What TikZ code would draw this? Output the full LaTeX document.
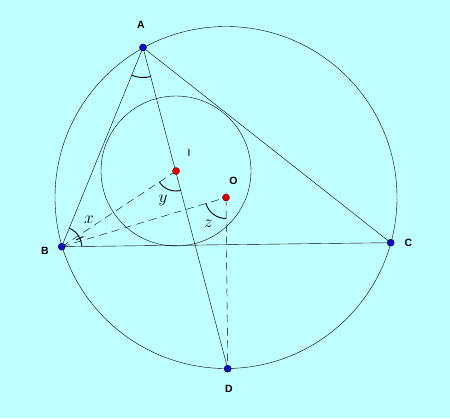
\documentclass[tikz,border=0pt]{standalone}
\usepackage{fontspec}
\setsansfont{Liberation Sans}
\usetikzlibrary{angles, backgrounds, positioning}

\definecolor{bgcyan}{RGB}{191,255,255}
\definecolor{ptblue}{RGB}{15,15,190}
\definecolor{ptred}{RGB}{225,0,0}

\begin{document}
\begin{tikzpicture}[
        x=1pt, y=1pt,
        line width=1pt,
        bpt/.style={circle, draw=black!60!blue, fill=ptblue, inner sep=0pt, minimum size=7pt, line width=0.5pt},
        rpt/.style={circle, draw=black!50!red, fill=ptred, inner sep=0pt, minimum size=7pt, line width=0.5pt},
        lbl/.style={font=\sffamily\bfseries\fontsize{10.5}{12}\selectfont, inner sep=0pt},
        mlbl/.style={font=\fontsize{16}{18}\selectfont, inner sep=0pt},
        dline/.style={dash pattern=on 8pt off 5pt},
        amark/.style={draw, line width=0.9pt},
      ]

        % points
        \node[bpt] (A) at (143,-47.5)  {};
        \node[bpt] (B) at (61.7,-246.7) {};
        \node[bpt] (C) at (390.7,-242.7) {};
        \node[bpt] (D) at (227.7,-368.7) {};
        \node[rpt] (I) at (176,-171)    {};
        \node[rpt] (O) at (226,-197.5)  {};

        % labels
        \node[lbl] (lA) at (141,-24.5) {A};
        \node[lbl] (lB) at (45,-250.5) {B};
        \node[lbl] (lC) at (408.5,-243) {C};
        \node[lbl] (lD) at (229,-389)  {D};
        \node[lbl] (lO) at (233.5,-181) {O};
        \node[font=\sffamily\fontsize{10.5}{12}\selectfont, inner sep=0pt] (lI) at (189,-153) {I};

        \node[mlbl] (lx) at (89,-220)  {$x$};
        \node[mlbl] (ly) at (163,-200) {$y$};
        \node[mlbl] (lz) at (208.5,-224) {$z$};

        \begin{scope}[on background layer]
          \fill[bgcyan] (0,0) rectangle (450,-418);
          \useasboundingbox (0,0) rectangle (450,-418);

          % circles
          \draw (O.center) circle (171);
          \draw (I.center) circle (75);

          % triangle and bisector
          \draw (A.center) -- (B.center) -- (C.center) -- cycle;
          \draw (A.center) -- (D.center);

          % dashed lines
          \draw[dline] (B.center) -- (I.center);
          \draw[dline] (B.center) -- (O.center);
          \draw[dline] (O.center) -- (D.center);

          % angle marks
          \path pic[amark, angle radius=30] {angle = B--A--D};
          \path pic[amark, angle radius=20] {angle = C--B--A};
          \path pic[amark, angle radius=20] {angle = B--I--D};
          \path pic[amark, angle radius=21] {angle = B--O--D};
          \draw[line width=0.9pt] ([shift={(25:16)}]B.center) -- ([shift={(25:24)}]B.center);
        \end{scope}
      \end{tikzpicture}
\end{document}
